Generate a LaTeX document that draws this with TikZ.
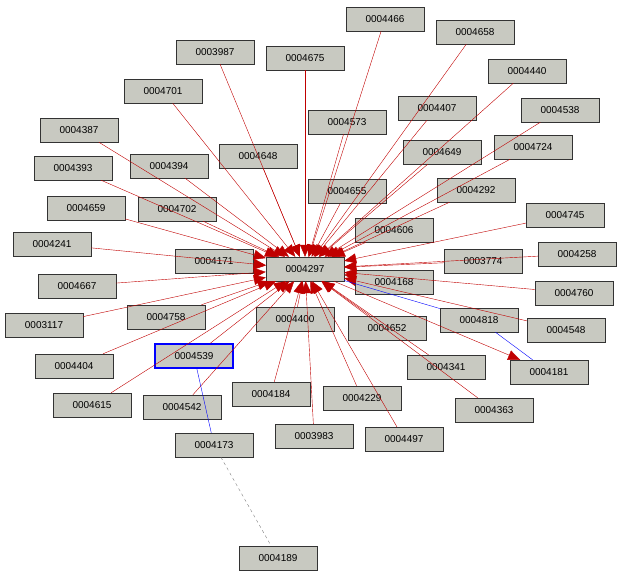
\documentclass[tikz,border=0pt]{standalone}
\usepackage{fontspec}
\setmainfont{Liberation Sans}
\usetikzlibrary{arrows.meta}
\definecolor{boxgray}{HTML}{C8C9C1}
\definecolor{edgered}{HTML}{C00000}

\begin{document}
\begin{tikzpicture}[x=1pt,y=-1pt,
    idbox/.style={draw=black!80,fill=boxgray,minimum width=78pt,minimum height=24pt,inner sep=0pt,font=\fontsize{10}{12}\selectfont},
    tocenter/.style={edgered,-{Triangle[length=12pt,width=10pt]}}]
\useasboundingbox (0,0) rectangle (623,578);
% nodes
\node[idbox] (center) at (305,269) {0004297};
\foreach \name/\x/\y in {
    0004466/385/19, 0004658/475/32, 0003987/215/52, 0004675/305/58,
    0004440/527/71, 0004701/163/91, 0004407/437/108, 0004573/347/122,
    0004538/560/110, 0004387/79/130, 0004649/442/152, 0004724/533/147,
    0004648/258/156, 0004394/169/166, 0004393/73/168, 0004655/347/191,
    0004292/476/190, 0004659/86/208, 0004702/177/209, 0004745/565/215,
    0004606/394/230, 0004241/52/244, 0004171/214/261, 0003774/483/261,
    0004258/577/254, 0004667/77/286, 0004168/394/282, 0004760/574/293,
    0003117/44/325, 0004758/166/317, 0004400/295/319, 0004652/387/328,
    0004404/74/366, 0004341/446/367, 0004615/92/405,
    0004542/182/407, 0004184/271/394, 0004229/362/398, 0004363/494/410,
    0003983/314/436, 0004497/404/439, 0004548/566/330}
    \node[idbox] (n\name) at (\x,\y) {\name};
\node[idbox,draw=blue,line width=1.5pt] (n0004539) at (194,356) {0004539};
\node[idbox] (n0004818) at (479,320) {0004818};
\node[idbox] (n0004181) at (549,372) {0004181};
\node[idbox] (n0004173) at (214,445) {0004173};
\node[idbox] (n0004189) at (278,558) {0004189};
% edges
\foreach \name in {0004466,0004658,0003987,0004675,0004440,0004701,0004407,
    0004573,0004538,0004387,0004649,0004724,0004648,0004394,0004393,0004655,
    0004292,0004659,0004702,0004745,0004606,0004241,0004171,0003774,0004258,
    0004667,0004168,0004760,0003117,0004758,0004400,0004652,0004404,0004341,
    0004615,0004542,0004184,0004229,0004363,0003983,0004497,0004548,0004539}
    \draw[tocenter] (n\name) -- (center);
\draw[edgered,-{Triangle[length=12pt,width=10pt]}] (center) -- (n0004181);
\draw[blue] (center) -- (n0004818);
\draw[blue] (n0004818) -- (n0004181);
\draw[blue] (n0004539) -- (n0004173);
\draw[gray,dashed] (n0004173) -- (n0004189);
\end{tikzpicture}
\end{document}
